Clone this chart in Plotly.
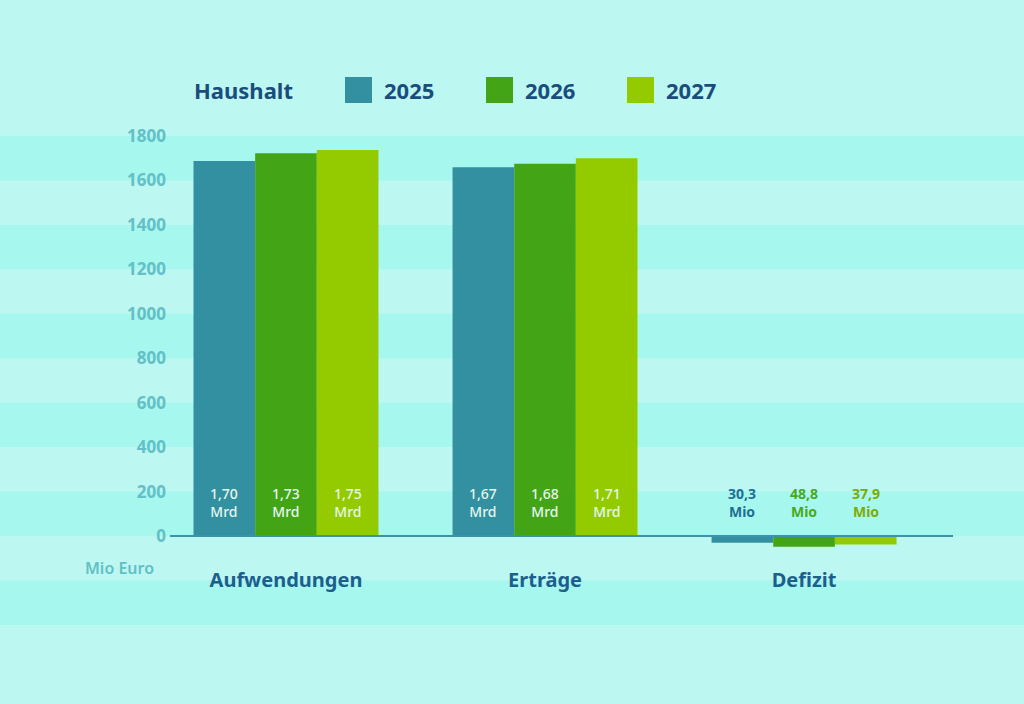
import plotly.graph_objects as go

# Haushalt 2025-2027, Werte in Mio Euro
categories = ["Aufwendungen", "Erträge", "Defizit"]
years = ["2025", "2026", "2027"]
values_2025 = [1688, 1659, -30.3]
values_2026 = [1722, 1675, -48.8]
values_2027 = [1737, 1700, -37.9]
labels_2025 = ["1,70<br>Mrd", "1,67<br>Mrd", "30,3<br>Mio"]
labels_2026 = ["1,73<br>Mrd", "1,68<br>Mrd", "48,8<br>Mio"]
labels_2027 = ["1,75<br>Mrd", "1,71<br>Mrd", "37,9<br>Mio"]
y_ticks = [0, 200, 400, 600, 800, 1000, 1200, 1400, 1600, 1800]

series = [
    (years[0], values_2025, labels_2025, "#3390a0", "#1f6f92"),
    (years[1], values_2026, labels_2026, "#43a516", "#4aa81c"),
    (years[2], values_2027, labels_2027, "#94cb00", "#7fab00"),
]

FONT = "Noto Sans"
BG_LIGHT = "#bcf7f2"
BG_DARK = "#a6f8ef"
NAVY = "#1b4d7c"
TICK = "#62c0c6"

bargap = 0.286
bar_w = (1 - bargap) / 3
x_pos = list(range(len(categories)))

fig = go.Figure()

for name, vals, _, color, _ in series:
    fig.add_trace(go.Bar(
        x=x_pos, y=vals, name=name,
        marker=dict(color=color, line=dict(width=0)),
        showlegend=False, hoverinfo="x+y",
    ))

# background stripes (every other 200 band)
shapes = []
for lo in [-400, 0, 400, 800, 1200, 1600]:
    shapes.append(dict(type="rect", xref="paper", yref="y", x0=0, x1=1,
                       y0=lo, y1=lo + 200, fillcolor=BG_DARK,
                       line=dict(width=0), layer="below"))
# base line
shapes.append(dict(type="line", xref="x", yref="y", x0=-0.448, x1=2.575,
                   y0=0, y1=0, line=dict(color="#3a93a8", width=2),
                   layer="above"))

annotations = []
for j, (name, vals, labels, color, text_color) in enumerate(series):
    for i, lab in enumerate(labels):
        inside = vals[i] > 0
        annotations.append(dict(
            x=i + (j - 1) * bar_w, y=0, xref="x", yref="y",
            text=lab, showarrow=False, yanchor="bottom", yshift=13,
            font=dict(family=FONT, size=14,
                      color="#e4f7ef" if inside else text_color,
                      weight=500 if inside else "bold"),
        ))

# legend
annotations.append(dict(x=192 / 1024, y=1 - 90 / 704, xref="paper", yref="paper",
                        text="Haushalt", showarrow=False, xanchor="left",
                        yanchor="middle",
                        font=dict(family=FONT, size=22, color=NAVY, weight="bold")))
legend_x = [345, 486, 627]
for (name, _, _, color, _), lx in zip(series, legend_x):
    shapes.append(dict(type="rect", xref="paper", yref="paper",
                       x0=lx / 1024, x1=(lx + 27) / 1024,
                       y0=1 - 103 / 704, y1=1 - 77 / 704,
                       fillcolor=color, line=dict(width=0)))
    annotations.append(dict(x=(lx + 37) / 1024, y=1 - 90 / 704,
                            xref="paper", yref="paper", text=name,
                            showarrow=False, xanchor="left", yanchor="middle",
                            font=dict(family=FONT, size=22, color=NAVY,
                                      weight="bold")))

annotations.append(dict(x=156 / 1024, y=1 - 568 / 704, xref="paper", yref="paper",
                        text="Mio Euro", showarrow=False, xanchor="right",
                        yanchor="middle",
                        font=dict(family=FONT, size=16, color=TICK, weight=600)))

fig.update_layout(
    width=1024, height=704,
    margin=dict(l=0, r=0, t=0, b=0),
    paper_bgcolor=BG_LIGHT, plot_bgcolor="rgba(0,0,0,0)",
    barmode="group", bargap=bargap, bargroupgap=0,
    shapes=shapes, annotations=annotations,
    showlegend=False,
    xaxis=dict(
        range=[-1.104, 2.849], tickvals=x_pos, ticktext=categories,
        showgrid=False, zeroline=False, showline=False, ticks="",
        anchor="free", position=(704 - 536) / 704,
        ticklabelstandoff=30, fixedrange=True,
        tickfont=dict(family=FONT, size=20, color="#1d5f8c", weight="bold"),
    ),
    yaxis=dict(
        range=[-756, 2412], tickvals=y_ticks,
        showgrid=False, zeroline=False, showline=False, ticks="",
        anchor="free", position=170 / 1024, ticklabelstandoff=4,
        fixedrange=True,
        tickfont=dict(family=FONT, size=17, color=TICK, weight="bold"),
    ),
)

fig.write_html("out.html", config={"displayModeBar": False},
               post_script="document.body.style.margin='0';"
                           "document.body.style.overflow='hidden';")
